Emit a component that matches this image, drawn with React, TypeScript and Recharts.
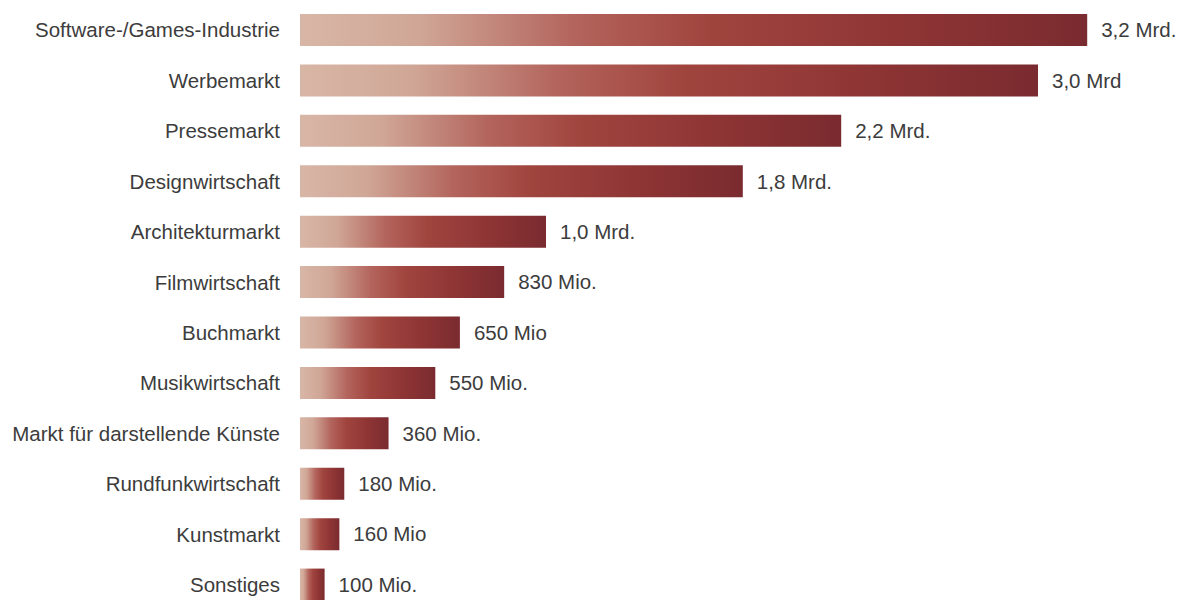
import { Bar, BarChart, LabelList, XAxis, YAxis } from 'recharts';

const categories = [
  'Software-/Games-Industrie',
  'Werbemarkt',
  'Pressemarkt',
  'Designwirtschaft',
  'Architekturmarkt',
  'Filmwirtschaft',
  'Buchmarkt',
  'Musikwirtschaft',
  'Markt für darstellende Künste',
  'Rundfunkwirtschaft',
  'Kunstmarkt',
  'Sonstiges',
];

// Umsatz in Mio. Euro
const values = [3200, 3000, 2200, 1800, 1000, 830, 650, 550, 360, 180, 160, 100];

const valueLabels = [
  '3,2 Mrd.',
  '3,0 Mrd',
  '2,2 Mrd.',
  '1,8 Mrd.',
  '1,0 Mrd.',
  '830 Mio.',
  '650 Mio',
  '550 Mio.',
  '360 Mio.',
  '180 Mio.',
  '160 Mio',
  '100 Mio.',
];

const data = categories.map((name, i) => ({ name, value: values[i], label: valueLabels[i] }));

const font = '"Liberation Sans", Arial, sans-serif';

export default function App() {
  return (
    <div
      style={{
        position: 'absolute',
        left: 0,
        top: 0,
        width: 1178,
        height: 600,
        overflow: 'hidden',
        background: '#ffffff',
        fontFamily: font,
      }}
    >
      <BarChart
        width={1178}
        height={610}
        data={data}
        layout="vertical"
        margin={{ top: 5, right: 17, bottom: 0, left: 0 }}
        barSize={32}
      >
        <defs>
          {/* default objectBoundingBox units: every bar gets its own light-to-dark ramp */}
          <linearGradient id="bar-fill" x1="0" y1="0" x2="1" y2="0">
            <stop offset="0%" stopColor="#d8b6a6" />
            <stop offset="15%" stopColor="#d0a797" />
            <stop offset="35%" stopColor="#b3645c" />
            <stop offset="52%" stopColor="#a0443e" />
            <stop offset="78%" stopColor="#8d3434" />
            <stop offset="100%" stopColor="#7a2b2f" />
          </linearGradient>
        </defs>
        <XAxis type="number" domain={[0, 3500]} hide />
        <YAxis
          type="category"
          dataKey="name"
          width={300}
          axisLine={false}
          tickLine={false}
          tickSize={0}
          tickMargin={20}
          interval={0}
          tick={{ fill: '#3c3c3c', fontSize: 20.5, fontFamily: font }}
        />
        <Bar dataKey="value" fill="url(#bar-fill)" isAnimationActive={false}>
          <LabelList
            dataKey="label"
            position="right"
            offset={14}
            fill="#3c3c3c"
            fontSize={20.5}
            fontFamily={font}
          />
        </Bar>
      </BarChart>
    </div>
  );
}
